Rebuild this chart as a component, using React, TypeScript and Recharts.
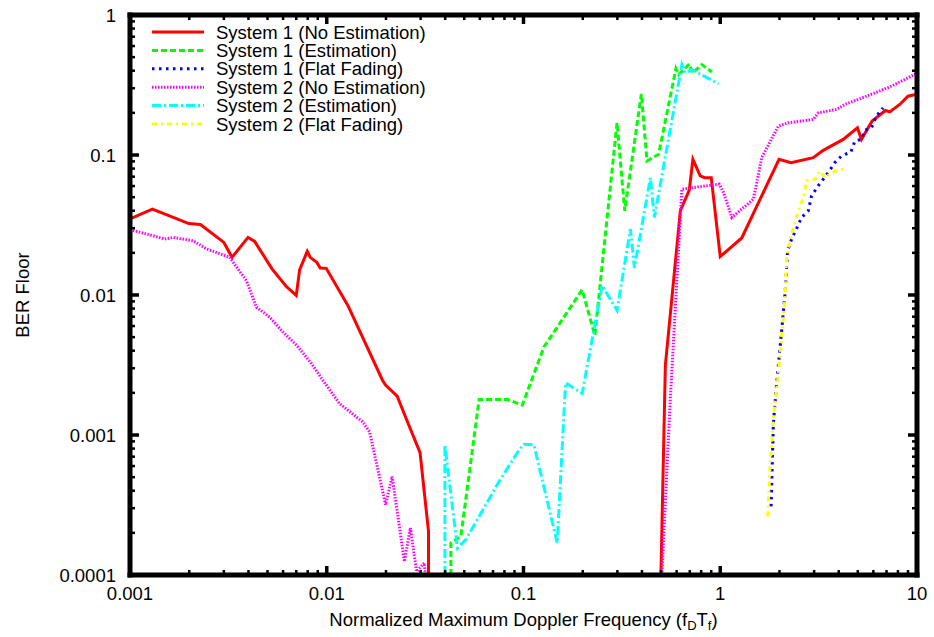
import { Legend, Line, LineChart, XAxis, YAxis } from "recharts";

const FONT = '"Liberation Sans", Arial, Helvetica, sans-serif';
const FS = 18.5;

// BER floor vs normalized max Doppler frequency. null in y = BER 0 (gap on log axis).
const s1NoEstX = [
  0.001, 0.0013, 0.00199, 0.00228, 0.003, 0.0033, 0.00398, 0.0043, 0.00527, 0.00623, 0.007, 0.00728,
  0.00796, 0.00824, 0.0089, 0.00926, 0.00994, 0.0128, 0.0192, 0.0199, 0.0228, 0.0255, 0.0298, 0.0329, 0.0329,
  0.1,
  0.4995, 0.526, 0.627, 0.696, 0.726, 0.791, 0.832, 0.9, 1.0, 1.286, 1.99, 2.289, 2.97, 3.338, 4.216, 4.981,
  5.22, 5.914, 6.908, 7.27, 8.17, 9.0, 10,
];
const s1NoEstY = [
  0.035, 0.0411, 0.0324, 0.0319, 0.02375, 0.01858, 0.0258, 0.02415, 0.01537, 0.0115, 0.00992, 0.01512,
  0.0205, 0.01858, 0.0171, 0.0156, 0.0155, 0.00842, 0.002463, 0.00227, 0.001895, 0.001279, 0.000748, 0.000205, 0.0001,
  null,
  0.0001, 0.00315, 0.04, 0.0561, 0.0932, 0.0709, 0.0689, 0.0689, 0.0188, 0.02554, 0.0932, 0.0881, 0.0957, 0.108,
  0.1293, 0.1564, 0.1293, 0.1746, 0.208, 0.2033, 0.2296, 0.263, 0.2717,
];

const s1EstX = [
  0.04275, 0.04275, 0.04804, 0.05949, 0.08278, 0.0986, 0.127, 0.1987, 0.2305, 0.2988, 0.327, 0.3973,
  0.4242, 0.4862, 0.5953, 0.6142, 0.6963, 0.7234, 0.8061, 0.906,
];
const s1EstY = [
  0.0001, 0.0001695, 0.000189, 0.001795, 0.001795, 0.001635, 0.004251, 0.01089, 0.00515, 0.1698, 0.03996, 0.273,
  0.0907, 0.1012, 0.4142, 0.3754, 0.4466, 0.3853, 0.4421, 0.3916,
];

const s1FlatX = [
  1.813, 1.862, 1.935, 2.037, 2.134, 2.2, 2.305, 2.415, 2.591, 2.802, 2.912, 3.148, 3.51, 3.826, 4.133,
  4.613, 4.834, 5.22, 5.43, 5.867, 6.22, 6.724,
];
const s1FlatY = [
  0.000309, 0.001211, 0.002333, 0.005007, 0.0102, 0.02074, 0.0251, 0.02877, 0.0358, 0.03996, 0.0511, 0.0602,
  0.0738, 0.0884, 0.0984, 0.1051, 0.1258, 0.1293, 0.1499, 0.1564, 0.1895, 0.2171,
];

const s2NoEstX = [
  0.001, 0.00131, 0.0015, 0.00166, 0.00209, 0.00245, 0.00321, 0.0039, 0.00439, 0.00513, 0.00588, 0.00703,
  0.00827, 0.00955, 0.0116, 0.0152, 0.0165, 0.0199, 0.0215, 0.0248, 0.0266, 0.0286, 0.0313, 0.0317,
  0.1,
  0.505, 0.558, 0.638, 0.776, 0.988, 1.039, 1.145, 1.475, 1.624, 1.974, 2.218, 2.97, 3.148, 3.898, 4.3,
  6.105, 7.408, 10,
];
const s2NoEstY = [
  0.02925, 0.0265, 0.0251, 0.0258, 0.02443, 0.02132, 0.01858, 0.01268, 0.00819, 0.00695, 0.00559, 0.00437,
  0.00331, 0.002463, 0.00168, 0.001243, 0.001056, 0.000318, 0.000505, 0.000125, 0.000217, 0.000106, 0.000122, 0.0001,
  null,
  0.0001, 0.00187, 0.057, 0.0592, 0.0619, 0.0539, 0.0358, 0.0484, 0.0957, 0.1609, 0.1698, 0.1795, 0.2, 0.2114,
  0.2296, 0.2776, 0.31, 0.3835,
];

const s2EstX = [
  0.03986, 0.03986, 0.0411, 0.04617, 0.05093, 0.07512, 0.0949, 0.1006, 0.113, 0.1484, 0.1636, 0.1987,
  0.2509, 0.2988, 0.3496, 0.3663, 0.4415, 0.4625, 0.6384, 0.6644, 0.7176, 0.9797,
];
const s2EstY = [
  0.0001, 0.000849, 0.000595, 0.000156, 0.000179, 0.000465, 0.000782, 0.000859, 0.000849, 0.0001695, 0.002356,
  0.00198, 0.01168, 0.00776, 0.02959, 0.0156, 0.0689, 0.0358, 0.4418, 0.3853, 0.4074, 0.3218,
];

const s2FlatX = [
  1.742, 1.792, 1.862, 1.958, 2.051, 2.134, 2.174, 2.262, 2.399, 2.493, 2.643, 2.747, 3.03, 3.212, 3.404,
  3.678, 3.977, 4.315,
];
const s2FlatY = [
  0.000262, 0.000595, 0.00135, 0.002463, 0.005007, 0.00965, 0.01858, 0.0251, 0.03296, 0.03996, 0.04967,
  0.0653, 0.0671, 0.0769, 0.0689, 0.0748, 0.0778, 0.0801,
];

const xMajor = [0.001, 0.01, 0.1, 1, 10];
const xMinor = [
  0.002, 0.003, 0.004, 0.005, 0.006, 0.007, 0.008, 0.009,
  0.02, 0.03, 0.04, 0.05, 0.06, 0.07, 0.08, 0.09,
  0.2, 0.3, 0.4, 0.5, 0.6, 0.7, 0.8, 0.9,
  2, 3, 4, 5, 6, 7, 8, 9,
];
const yMajor = [0.0001, 0.001, 0.01, 0.1, 1];
const yMinor = [
  0.0002, 0.0003, 0.0004, 0.0005, 0.0006, 0.0007, 0.0008, 0.0009,
  0.002, 0.003, 0.004, 0.005, 0.006, 0.007, 0.008, 0.009,
  0.02, 0.03, 0.04, 0.05, 0.06, 0.07, 0.08, 0.09,
  0.2, 0.3, 0.4, 0.5, 0.6, 0.7, 0.8, 0.9,
];

const zip = (xs: number[], ys: (number | null)[]) => xs.map((x, i) => ({ x, y: ys[i] }));

const SERIES = [
  { name: "System 1 (No Estimation)", data: zip(s1NoEstX, s1NoEstY), color: "#ff0000", dash: undefined, w: 3 },
  { name: "System 1 (Estimation)", data: zip(s1EstX, s1EstY), color: "#00ff00", dash: "6 3", w: 3 },
  { name: "System 1 (Flat Fading)", data: zip(s1FlatX, s1FlatY), color: "#0000ff", dash: "2.5 4.5", w: 3 },
  { name: "System 2 (No Estimation)", data: zip(s2NoEstX, s2NoEstY), color: "#ff00ff", dash: "1.5 1.5", w: 3 },
  { name: "System 2 (Estimation)", data: zip(s2EstX, s2EstY), color: "#00ffff", dash: "9 3 2 3", w: 3 },
  { name: "System 2 (Flat Fading)", data: zip(s2FlatX, s2FlatY), color: "#ffff00", dash: "5 4 2 4", w: 3 },
];

const FRAME = { stroke: "#000", strokeWidth: 5, strokeLinecap: "square" as const };
const MAJOR_LEN = 9;
const MINOR_LEN = 5;

const isMajor = (v: number) => Math.abs(Math.log10(v) - Math.round(Math.log10(v))) < 1e-6;

function BottomTick({ x, y, payload }: any) {
  const major = isMajor(payload.value);
  return (
    <g>
      <line x1={x} x2={x} y1={y} y2={y - (major ? MAJOR_LEN : MINOR_LEN)} stroke="#000" strokeWidth={major ? 3.5 : 2.5} />
      {major && (
        <text x={x} y={y + 25} textAnchor="middle" fontSize={FS} fontFamily={FONT} fill="#000">
          {String(payload.value)}
        </text>
      )}
    </g>
  );
}

function TopTick({ x, y, payload }: any) {
  const major = isMajor(payload.value);
  return <line x1={x} x2={x} y1={y} y2={y + (major ? MAJOR_LEN : MINOR_LEN)} stroke="#000" strokeWidth={major ? 3.5 : 2.5} />;
}

function LeftTick({ x, y, payload }: any) {
  const major = isMajor(payload.value);
  return (
    <g>
      <line x1={x} x2={x + (major ? MAJOR_LEN : MINOR_LEN)} y1={y} y2={y} stroke="#000" strokeWidth={major ? 3.5 : 2.5} />
      {major && (
        <text x={x - 14} y={y} dy="0.36em" textAnchor="end" fontSize={FS} fontFamily={FONT} fill="#000">
          {String(payload.value)}
        </text>
      )}
    </g>
  );
}

function RightTick({ x, y, payload }: any) {
  const major = isMajor(payload.value);
  return <line x1={x} x2={x - (major ? MAJOR_LEN : MINOR_LEN)} y1={y} y2={y} stroke="#000" strokeWidth={major ? 3.5 : 2.5} />;
}

function XTitle({ viewBox }: any) {
  const cx = viewBox.x + viewBox.width / 2;
  return (
    <text x={cx} y={viewBox.y + 51} textAnchor="middle" fontSize={FS} fontFamily={FONT} fill="#000">
      Normalized Maximum Doppler Frequency (f
      <tspan dy={4} fontSize={13}>D</tspan>
      <tspan dy={-4}>T</tspan>
      <tspan dy={4} fontSize={13}>f</tspan>
      <tspan dy={-4}>)</tspan>
    </text>
  );
}

function YTitle({ viewBox }: any) {
  const cy = viewBox.y + viewBox.height / 2;
  return (
    <text x={22} y={cy} transform={`rotate(-90 22 ${cy})`} textAnchor="middle" dy="0.36em" fontSize={FS} fontFamily={FONT} fill="#000">
      BER Floor
    </text>
  );
}

function KeyBox() {
  return (
    <svg width={300} height={120}>
      {SERIES.map((s, i) => {
        const cy = 10 + i * 18.4;
        return (
          <g key={s.name}>
            <line x1={4} x2={56} y1={cy} y2={cy} stroke={s.color} strokeWidth={s.w} strokeDasharray={s.dash} />
            <text x={68} y={cy} dy="0.36em" fontSize={FS} fontFamily={FONT} fill="#000">
              {s.name}
            </text>
          </g>
        );
      })}
    </svg>
  );
}

export default function App() {
  const xTicks = [...xMajor, ...xMinor];
  const yTicks = [...yMajor, ...yMinor];
  return (
    <div style={{ position: "absolute", left: 0, top: 0, background: "#fff" }}>
      <LineChart width={934} height={637} margin={{ top: 14, right: 16, bottom: 0, left: 0 }}>
        {SERIES.map((s) => (
          <Line
            key={s.name}
            xAxisId="b"
            yAxisId="l"
            data={s.data}
            dataKey="y"
            name={s.name}
            type="linear"
            stroke={s.color}
            strokeWidth={s.w}
            strokeDasharray={s.dash}
            dot={false}
            activeDot={false}
            connectNulls={false}
            isAnimationActive={false}
          />
        ))}
        {/* invisible copy so the mirrored top/right axes get a domain and render */}
        <Line
          xAxisId="t"
          yAxisId="r"
          data={SERIES[0].data}
          dataKey="y"
          stroke="none"
          dot={false}
          activeDot={false}
          legendType="none"
          isAnimationActive={false}
        />
        <XAxis
          xAxisId="b"
          type="number"
          dataKey="x"
          scale="log"
          domain={[0.001, 10]}
          allowDataOverflow
          ticks={xTicks}
          interval={0}
          height={62}
          tickSize={0}
          tickMargin={0}
          tickLine={false}
          tick={<BottomTick />}
          axisLine={FRAME}
          label={XTitle}
        />
        <XAxis
          xAxisId="t"
          orientation="top"
          type="number"
          dataKey="x"
          scale="log"
          domain={[0.001, 10]}
          allowDataOverflow
          ticks={xTicks}
          interval={0}
          height={1}
          tickSize={0}
          tickMargin={0}
          tickLine={false}
          tick={<TopTick />}
          axisLine={FRAME}
        />
        <YAxis
          yAxisId="l"
          type="number"
          scale="log"
          domain={[0.0001, 1]}
          allowDataOverflow
          ticks={yTicks}
          interval={0}
          width={130}
          tickSize={0}
          tickMargin={0}
          tickLine={false}
          tick={<LeftTick />}
          axisLine={FRAME}
          label={YTitle}
        />
        <YAxis
          yAxisId="r"
          orientation="right"
          type="number"
          scale="log"
          domain={[0.0001, 1]}
          allowDataOverflow
          ticks={yTicks}
          interval={0}
          width={1}
          tickSize={0}
          tickMargin={0}
          tickLine={false}
          tick={<RightTick />}
          axisLine={FRAME}
        />
        <Legend
          layout="vertical"
          align="center"
          verticalAlign="middle"
          content={() => <KeyBox />}
          wrapperStyle={{ left: 148, top: 22, width: 300, height: 120 }}
        />
      </LineChart>
    </div>
  );
}
